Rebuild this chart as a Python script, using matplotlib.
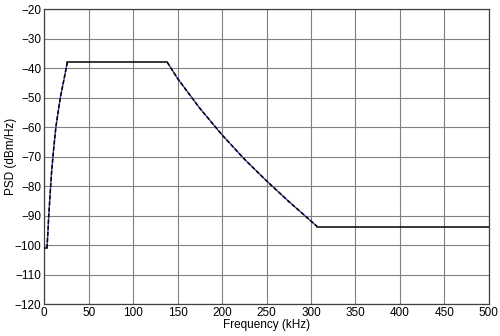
import matplotlib
matplotlib.use("Agg")
import matplotlib.pyplot as plt
import numpy as np

# Solid black segments (flat parts)
flat_f = [0, 3, None, 25.9, 138.4, None, 307, 500]
flat_p = [-101, -101, None, -38, -38, None, -93.7, -93.7]

# Rising slope
rise_f = [3, 4, 5, 6.5, 8, 10, 13, 18, 22, 25.9]
rise_p = [-101, -96, -90, -83, -76, -69, -60, -50, -44, -38]

# Falling slope
fall_f = [138.4, 150, 175, 200, 225, 250, 275, 307]
fall_p = [-38, -43.5, -53.6, -62.6, -70.8, -78.2, -85.2, -93.7]

xticks = list(range(0, 501, 50))
yticks = list(range(-120, -19, 10))

plt.rcParams['font.family'] = ['Liberation Sans', 'DejaVu Sans']
fig = plt.figure(figsize=(5.0, 3.36), dpi=100)
ax = fig.add_axes([0.0886, 0.0952, 0.8888, 0.8771])

ff = np.array([np.nan if v is None else v for v in flat_f], dtype=float)
fp = np.array([np.nan if v is None else v for v in flat_p], dtype=float)
ax.plot(ff, fp, color='black', lw=1.1, zorder=3)
for xs, ys in [(rise_f, rise_p), (fall_f, fall_p)]:
    ax.plot(xs, ys, color='#4040b0', lw=1.0, zorder=3)
    ax.plot(xs, ys, color='black', lw=1.1, ls=(0, (2.5, 1.5)), zorder=4)

ax.set_xlim(0, 500)
ax.set_ylim(-120, -20)
ax.set_xticks(xticks)
ax.set_yticks(yticks)
ax.grid(True, color='#808080', lw=0.8)
ax.tick_params(length=0, labelsize=8.5, pad=2)
for s in ax.spines.values():
    s.set_color('#404040')
    s.set_linewidth(0.9)
ax.set_xlabel('Frequency (kHz)', fontsize=8.5, labelpad=0)
ax.set_ylabel('PSD (dBm/Hz)', fontsize=8.5)
ax.yaxis.set_label_coords(-0.062, 0.5)

fig.savefig('out.png', dpi=100)
